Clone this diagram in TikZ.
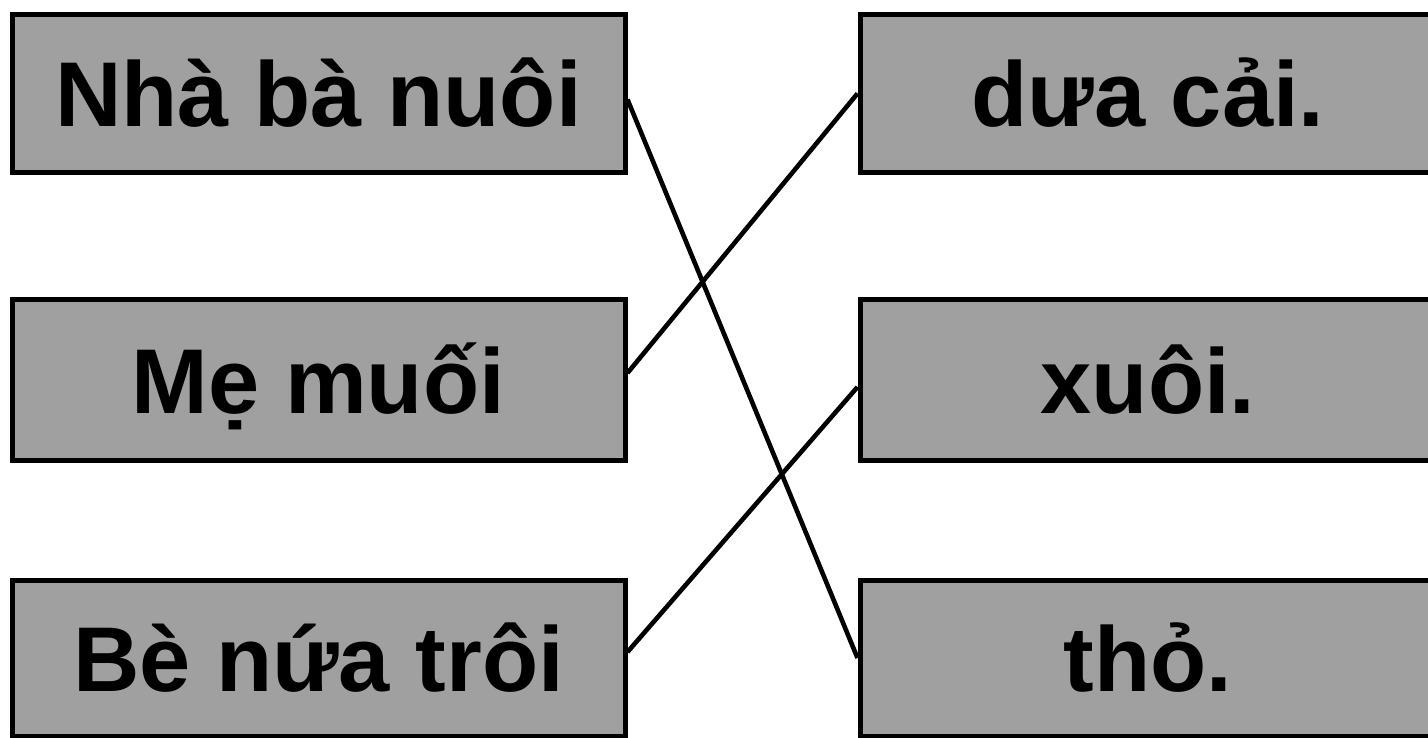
\documentclass[tikz,border=0pt]{standalone}
\usepackage{fontspec}
\setmainfont{Liberation Sans}
\definecolor{boxgray}{RGB}{160,160,160}
\tikzset{
  card/.style={draw=black, line width=5pt, fill=boxgray, rectangle, inner sep=0pt,
    minimum height=158pt, text height=66pt, text depth=0pt,
    font=\fontsize{92}{92}\selectfont\bfseries},
  leftcard/.style={card, minimum width=613pt},
  rightcard/.style={card, minimum width=576pt},
  link/.style={draw=black, line width=4.6pt}
}
\begin{document}
\begin{tikzpicture}[x=1pt,y=-1pt]
\useasboundingbox[fill=white] (0,0) rectangle (1428,738);
\clip (0,0) rectangle (1428,738);
\node[leftcard] (l1) at (318.5,93.5) {Nhà bà nuôi};
\node[leftcard, minimum height=160pt] (l2) at (318.5,380) {Mẹ muối};
\node[leftcard, minimum height=156pt] (l3) at (318.5,658) {Bè nứa trôi};
\node[rightcard] (r1) at (1148,93.5) {dưa cải.};
\node[rightcard, minimum height=160pt] (r2) at (1148,380) {xuôi.};
\node[rightcard, minimum height=156pt] (r3) at (1148,658) {thỏ.};
\draw[link] ([yshift=-6pt]l1.east) -- (r3.west);
\draw[link] ([yshift=7pt]l2.east) -- (r1.west);
\draw[link] ([yshift=6pt]l3.east) -- ([yshift=-7pt]r2.west);
\end{tikzpicture}
\end{document}
